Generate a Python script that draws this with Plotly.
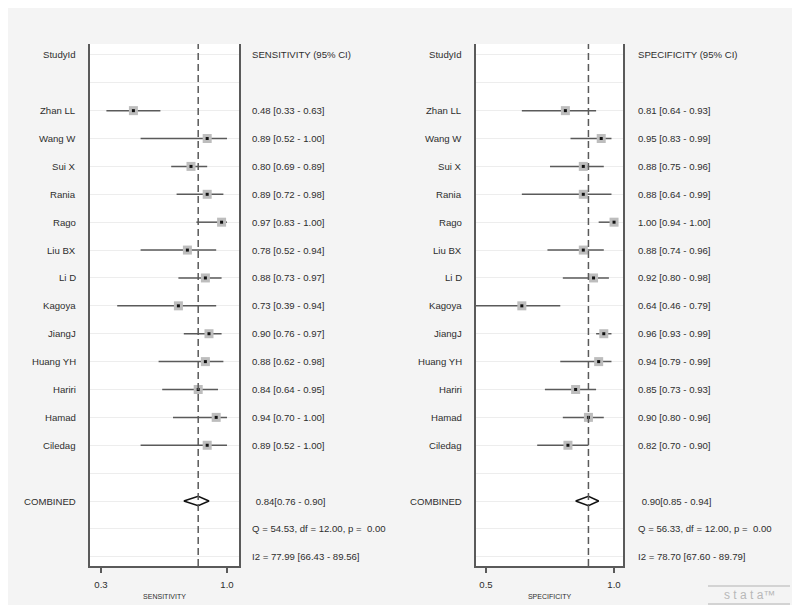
import plotly.graph_objects as go

# ---------------- data ----------------
studies = ["Zhan LL", "Wang W", "Sui X", "Rania", "Rago", "Liu BX", "Li D",
           "Kagoya", "JiangJ", "Huang YH", "Hariri", "Hamad", "Ciledag"]

sens = [0.48, 0.89, 0.80, 0.89, 0.97, 0.78, 0.88, 0.73, 0.90, 0.88, 0.84, 0.94, 0.89]
sens_lo = [0.33, 0.52, 0.69, 0.72, 0.83, 0.52, 0.73, 0.39, 0.76, 0.62, 0.64, 0.70, 0.52]
sens_hi = [0.63, 1.00, 0.89, 0.98, 1.00, 0.94, 0.97, 0.94, 0.97, 0.98, 0.95, 1.00, 1.00]

spec = [0.81, 0.95, 0.88, 0.88, 1.00, 0.88, 0.92, 0.64, 0.96, 0.94, 0.85, 0.90, 0.82]
spec_lo = [0.64, 0.83, 0.75, 0.64, 0.94, 0.74, 0.80, 0.46, 0.93, 0.79, 0.73, 0.80, 0.70]
spec_hi = [0.93, 0.99, 0.96, 0.99, 1.00, 0.96, 0.98, 0.79, 0.99, 0.99, 0.93, 0.96, 0.90]

sens_pooled = [0.84, 0.76, 0.90]   # estimate, lower, upper
spec_pooled = [0.90, 0.85, 0.94]

sens_q = [54.53, 12.00, 0.00]      # Q, df, p
spec_q = [56.33, 12.00, 0.00]
sens_i2 = [77.99, 66.43, 89.56]    # I2, lower, upper
spec_i2 = [78.70, 67.60, 89.79]

sens_ticks = [0.3, 1.0]
spec_ticks = [0.5, 1.0]

# ---------------- layout constants ----------------
OFF = 8                      # page body margin
W, H = 800 - 2 * OFF, 613 - 2 * OFF
FONT = "Liberation Sans, Arial, sans-serif"
FS = 9.6
TXT = "#2e2e2e"
LINE = "#5a5a5a"


def px(x):
    return (x - OFF) / W


def py(y):
    return 1 - (y - OFF) / H


n = len(studies)
study_rows = [2 + i for i in range(n)]
comb_row = n + 3
q_row = n + 4
i2_row = n + 5

fig = go.Figure()


def add_panel(xref, yref, est, lo, hi, pooled, name_x, val_x, header):
    # dashed pooled line
    fig.add_shape(type="line", xref=xref, yref=yref + " domain",
                  x0=pooled[0], x1=pooled[0], y0=0, y1=1,
                  line=dict(color=LINE, width=1.5, dash="7px,4px"), layer="above")
    # CI lines
    fig.add_trace(go.Scatter(
        x=est, y=study_rows, mode="markers", xaxis=xref, yaxis=yref,
        marker=dict(size=1, color="rgba(0,0,0,0)"),
        error_x=dict(type="data", symmetric=False,
                     array=[h - e for e, h in zip(est, hi)],
                     arrayminus=[e - l for e, l in zip(est, lo)],
                     color=LINE, thickness=1.5, width=0),
        hoverinfo="skip", showlegend=False))
    # gray weight squares
    fig.add_trace(go.Scatter(
        x=est, y=study_rows, mode="markers", xaxis=xref, yaxis=yref,
        marker=dict(symbol="square", size=9, color="#bdbdbd", line=dict(width=0)),
        hoverinfo="skip", showlegend=False))
    # black point
    fig.add_trace(go.Scatter(
        x=est, y=study_rows, mode="markers", xaxis=xref, yaxis=yref,
        marker=dict(symbol="square", size=3, color="#111111", line=dict(width=0)),
        hoverinfo="skip", showlegend=False))
    # diamond
    e, l, h = pooled
    d = 0.17
    fig.add_trace(go.Scatter(
        x=[l, e, h, e, l], y=[comb_row, comb_row - d, comb_row, comb_row + d, comb_row],
        mode="lines", fill="toself", fillcolor="white",
        line=dict(color="#111111", width=1.5), xaxis=xref, yaxis=yref,
        hoverinfo="skip", showlegend=False))

    # names
    labels = [("StudyId", 0)] + list(zip(studies, study_rows)) + [("COMBINED", comb_row)]
    for t, r in labels:
        fig.add_annotation(x=px(name_x), xref="paper", y=r, yref=yref, text=t,
                           showarrow=False, xanchor="right", yanchor="middle",
                           font=dict(family=FONT, size=FS, color=TXT))
    # values
    fig.add_annotation(x=px(val_x), xref="paper", y=0, yref=yref, text=header,
                       showarrow=False, xanchor="left", yanchor="middle",
                       font=dict(family=FONT, size=FS, color=TXT))
    for e_, l_, h_, r in zip(est, lo, hi, study_rows):
        fig.add_annotation(x=px(val_x), xref="paper", y=r, yref=yref,
                           text=f"{e_:.2f} [{l_:.2f} - {h_:.2f}]",
                           showarrow=False, xanchor="left", yanchor="middle",
                           font=dict(family=FONT, size=FS, color=TXT))


add_panel("x", "y", sens, sens_lo, sens_hi, sens_pooled, 78, 250,
          "SENSITIVITY (95% CI)")
add_panel("x2", "y2", spec, spec_lo, spec_hi, spec_pooled, 464, 636,
          "SPECIFICITY (95% CI)")

# summary texts
for (pool, q, i2, vx, yref) in [(sens_pooled, sens_q, sens_i2, 250, "y"),
                                (spec_pooled, spec_q, spec_i2, 636, "y2")]:
    fig.add_annotation(x=px(vx + 1), xref="paper", y=comb_row, yref=yref,
                       text=f" {pool[0]:.2f}[{pool[1]:.2f} - {pool[2]:.2f}]",
                       showarrow=False, xanchor="left", yanchor="middle",
                       font=dict(family=FONT, size=FS, color=TXT))
    fig.add_annotation(x=px(vx), xref="paper", y=q_row, yref=yref,
                       text=f"Q = {q[0]:.2f}, df = {q[1]:.2f}, p =  {q[2]:.2f}",
                       showarrow=False, xanchor="left", yanchor="middle",
                       font=dict(family=FONT, size=FS, color=TXT))
    fig.add_annotation(x=px(vx), xref="paper", y=i2_row, yref=yref,
                       text=f"I2 = {i2[0]:.2f} [{i2[1]:.2f} - {i2[2]:.2f}]",
                       showarrow=False, xanchor="left", yanchor="middle",
                       font=dict(family=FONT, size=FS, color=TXT))

# axes
ytop, ybot = 44, 566
ydom = [py(ybot), py(ytop)]
yrange = [i2_row + 0.33, -0.39]

common_x = dict(showgrid=False, zeroline=False, showline=True, linecolor=LINE,
                linewidth=1.5, mirror=False, ticks="outside", ticklen=5,
                tickwidth=1.5, tickcolor=LINE, ticklabelstandoff=4,
                tickfont=dict(family=FONT, size=FS, color=TXT),
                title=dict(font=dict(family=FONT, size=7, color=TXT), standoff=5))
common_y = dict(range=yrange, showticklabels=False, ticks="", showline=True,
                mirror=True, linecolor=LINE, linewidth=2, zeroline=False,
                showgrid=True, gridcolor="#ededed", gridwidth=1, dtick=1, tick0=0,
                domain=ydom)

fig.update_layout(
    width=W, height=H,
    margin=dict(l=0, r=0, t=0, b=0),
    paper_bgcolor="#f4f4f4", plot_bgcolor="white",
    showlegend=False,
    xaxis=dict(common_x, domain=[px(90), px(239)], range=[0.2389, 1.0667],
               tickvals=sens_ticks, ticktext=[f"{v:.1f}" for v in sens_ticks],
               title_text="SENSITIVITY", anchor="y"),
    xaxis2=dict(common_x, domain=[px(476), px(623)], range=[0.461, 1.035],
                tickvals=spec_ticks, ticktext=[f"{v:.1f}" for v in spec_ticks],
                title_text="SPECIFICITY", anchor="y2"),
    yaxis=dict(common_y, anchor="x"),
    yaxis2=dict(common_y, anchor="x2"),
)

# Stata logo
for yy in [586, 604]:
    fig.add_shape(type="line", xref="paper", yref="paper",
                  x0=px(708), x1=px(790), y0=py(yy), y1=py(yy),
                  line=dict(color="#c8c8c8", width=1.5))
fig.add_annotation(x=px(749), xref="paper", y=py(595), yref="paper",
                   text="s t a t a™", showarrow=False, xanchor="center",
                   yanchor="middle", font=dict(family=FONT, size=12, color="#b8b8b8"))

fig.write_html("out.html")
